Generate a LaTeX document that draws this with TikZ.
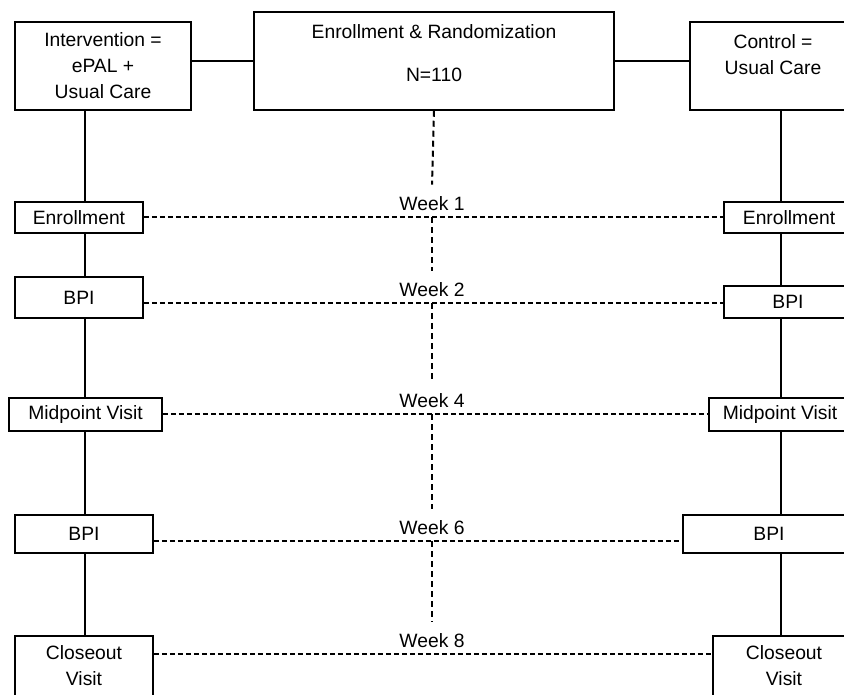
\documentclass[tikz,border=0pt]{standalone}
\usepackage{fontspec}
\setmainfont{Liberation Sans}

\tikzset{
    box/.style={draw=black, line width=1.5pt, inner sep=0pt, align=center, font=\fontsize{19.3}{26}\selectfont},
    weeklabel/.style={inner xsep=2pt, inner ysep=12pt, font=\fontsize{19.3}{26}\selectfont},
    link/.style={line width=1.3pt},
    weekline/.style={line width=1.2pt, dash pattern=on 5pt off 3pt},
    timeline/.style={line width=2pt, dash pattern=on 6pt off 4pt}
}

\begin{document}
\begin{tikzpicture}[x=1pt, y=-1pt]
    \useasboundingbox (0,0) rectangle (844,695);

    \node[box, minimum width=360pt, minimum height=98pt] (rand) at (434,61) {Enrollment \& Randomization\\[17pt]N=110\\[-17pt]\strut};
    \node[box, minimum width=176pt, minimum height=88pt] (inter) at (103,66) {Intervention =\\ePAL +\\Usual Care};
    \node[box, minimum width=166pt, minimum height=88pt] (ctrl) at (773,66) {Control =\\Usual Care\\[-10pt]\strut};

    \draw[link] (rand.west) -- (rand.west -| inter.east);
    \draw[link] (rand.east) -- (rand.east -| ctrl.west);

    \coordinate (lcol) at (85,0);
    \coordinate (rcol) at (781,0);

    \node[box, minimum width=128pt, minimum height=31pt] (lenr) at (79,217.5) {Enrollment};
    \node[box, minimum width=128pt, minimum height=41pt] (lbpia) at (79,297.5) {BPI};
    \node[box, minimum width=153pt, minimum height=33pt] (lmid) at (85.5,414.5) {Midpoint Visit};
    \node[box, minimum width=138pt, minimum height=38pt] (lbpib) at (84,534) {BPI};
    \node[box, minimum width=138pt, minimum height=60pt] (lclose) at (84,666) {Closeout\\Visit};

    \node[box, minimum width=130pt, minimum height=31pt] (renr) at (789,217.5) {Enrollment};
    \node[box, minimum width=128pt, minimum height=32pt] (rbpia) at (788,302) {BPI};
    \node[box, minimum width=142pt, minimum height=33pt] (rmid) at (780,414.5) {Midpoint Visit};
    \node[box, minimum width=172pt, minimum height=38pt] (rbpib) at (769,534) {BPI};
    \node[box, minimum width=142pt, minimum height=60pt] (rclose) at (784,666) {Closeout\\Visit};

    \draw[link] (inter.south -| lcol) -- (lenr.north -| lcol);
    \draw[link] (lenr.south -| lcol) -- (lbpia.north -| lcol);
    \draw[link] (lbpia.south -| lcol) -- (lmid.north -| lcol);
    \draw[link] (lmid.south -| lcol) -- (lbpib.north -| lcol);
    \draw[link] (lbpib.south -| lcol) -- (lclose.north -| lcol);

    \draw[link] (ctrl.south -| rcol) -- (renr.north -| rcol);
    \draw[link] (renr.south -| rcol) -- (rbpia.north -| rcol);
    \draw[link] (rbpia.south -| rcol) -- (rmid.north -| rcol);
    \draw[link] (rmid.south -| rcol) -- (rbpib.north -| rcol);
    \draw[link] (rbpib.south -| rcol) -- (rclose.north -| rcol);

    \coordinate (wa) at (432,217);
    \coordinate (wb) at (432,303);
    \coordinate (wc) at (432,414);
    \coordinate (wd) at (432,541);
    \coordinate (we) at (432,654);

    \node[weeklabel] (wka) at (432,204) {Week 1};
    \node[weeklabel] (wkb) at (432,290) {Week 2};
    \node[weeklabel] (wkc) at (432,401) {Week 4};
    \node[weeklabel] (wkd) at (432,528) {Week 6};
    \node[weeklabel] (wke) at (432,641) {Week 8};

    \draw[weekline] (lenr.east |- wa) -- (renr.west |- wa);
    \draw[weekline] (lbpia.east |- wb) -- (rbpia.west |- wb);
    \draw[weekline] (lmid.east |- wc) -- (rmid.west |- wc);
    \draw[weekline] (lbpib.east |- wd) -- (rbpib.west |- wd);
    \draw[weekline] (lclose.east |- we) -- (rclose.west |- we);

    \draw[timeline] (rand.south) -- (wka.north);
    \draw[timeline] (wa) -- (wkb.north);
    \draw[timeline] (wb) -- (wkc.north);
    \draw[timeline] (wc) -- (wkd.north);
    \draw[timeline] (wd) -- (wke.north);
\end{tikzpicture}
\end{document}
